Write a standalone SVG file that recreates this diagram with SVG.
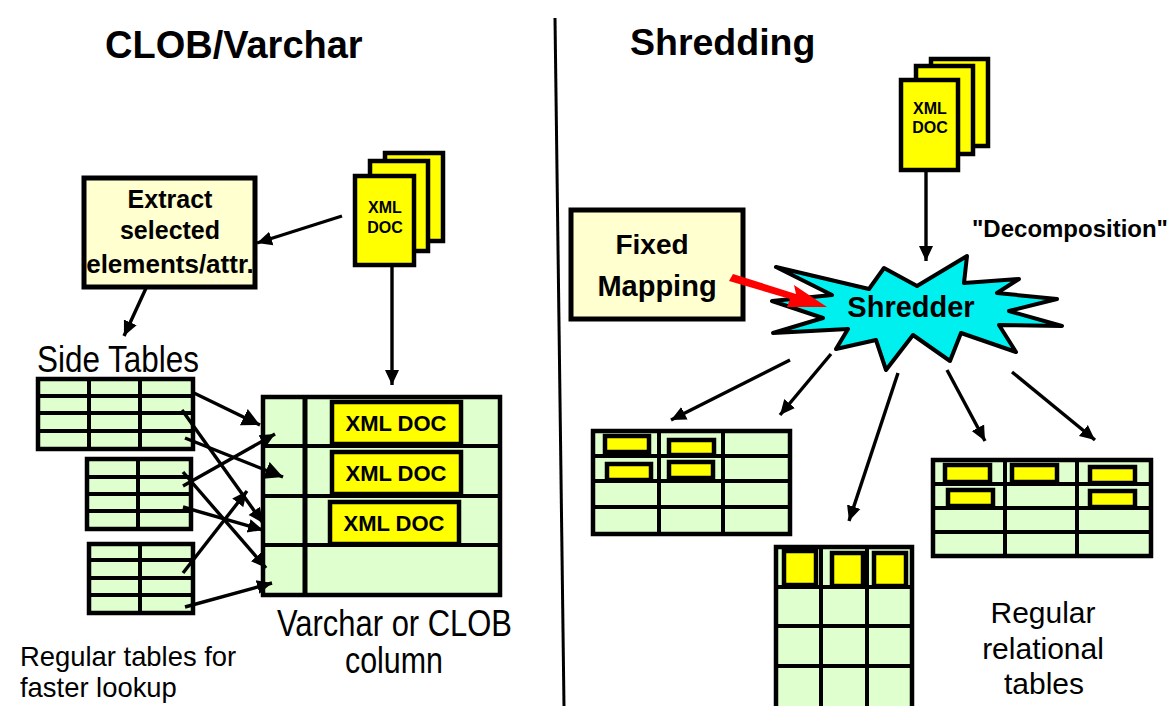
<svg xmlns="http://www.w3.org/2000/svg" width="1175" height="706" viewBox="0 0 1175 706">
<style>
text{font-family:"Liberation Sans",Arial,sans-serif;fill:#000}
.b{font-weight:700}
.m{text-anchor:middle}
.t{fill:#dfffcf;stroke:#000;stroke-width:4.5}
.g{stroke:#000;stroke-width:4;fill:none}
.g5{stroke:#000;stroke-width:5;fill:none}
.y{fill:#ff0;stroke:#000;stroke-width:4.5}
.s{fill:#ff0;stroke:#000;stroke-width:4.5}
.n{fill:#ffffd0;stroke:#000;stroke-width:5}
.c{stroke:#000;stroke-width:3.4;fill:none;marker-end:url(#ah)}
.c2{stroke:#000;stroke-width:3.4;fill:none;marker-end:url(#ahl)}
</style>
<defs>
<marker id="ah" markerUnits="userSpaceOnUse" markerWidth="16" markerHeight="16" refX="15" refY="8" orient="auto"><path d="M0 1L15 8L0 15Z"/></marker>
<marker id="ahl" markerUnits="userSpaceOnUse" markerWidth="20" markerHeight="20" refX="18" refY="10" orient="auto"><path d="M0 1L18 10L0 19Z"/></marker>
</defs>
<rect width="1175" height="706" fill="#fff"/>

<text class="b" x="105" y="58" font-size="38">CLOB/Varchar</text>
<text class="b" x="630" y="55" font-size="37.5">Shredding</text>
<path d="M555 18L564 706" stroke="#000" stroke-width="3" fill="none"/>

<g id="extract-box">
<rect class="n" x="84" y="178" width="171" height="109"/>
<text class="b m" x="170" y="208" font-size="25">Extract</text>
<text class="b m" x="170" y="239" font-size="25">selected</text>
<text class="b m" x="170" y="273" font-size="26">elements/attr.</text>
</g>

<g id="xml-stack-left">
<rect class="s" x="385" y="153" width="58" height="88"/>
<rect class="s" x="370" y="161" width="58" height="90"/>
<rect class="s" x="355" y="176" width="59" height="89"/>
<text class="b m" x="385" y="213" font-size="16">XML</text>
<text class="b m" x="385" y="233" font-size="16">DOC</text>
</g>

<g id="side-table-1">
<rect class="t" x="38" y="379" width="155" height="70"/>
<path class="g" d="M38 396H193M38 413H193M38 431H193M89 379V449M140 379V449"/>
</g>
<g id="side-table-2">
<rect class="t" x="87" y="459" width="104" height="70"/>
<path class="g" d="M87 477H191M87 494H191M87 511H191M138 459V529"/>
</g>
<g id="side-table-3">
<rect class="t" x="89" y="544" width="104" height="69"/>
<path class="g" d="M89 560H193M89 578H193M89 595H193M140 544V613"/>
</g>
<text id="side-tables-label" x="37" y="372" font-size="36" textLength="162" lengthAdjust="spacingAndGlyphs">Side Tables</text>

<g id="column-table">
<rect class="t" x="263" y="397" width="237" height="198"/>
<path class="g" d="M263 446H500M263 496H500M263 545H500"/>
<path class="g5" d="M305 397V595"/>
<g id="cell-doc-1">
<rect class="y" x="332" y="402" width="129" height="42"/>
<text class="b m" x="396" y="431" font-size="22">XML DOC</text>
</g>
<g id="cell-doc-2">
<rect class="y" x="332" y="452" width="129" height="42"/>
<text class="b m" x="396" y="481" font-size="22">XML DOC</text>
</g>
<g id="cell-doc-3">
<rect class="y" x="330" y="502" width="129" height="42"/>
<text class="b m" x="394" y="531" font-size="22">XML DOC</text>
</g>
</g>
<text x="277" y="636" font-size="37" textLength="235" lengthAdjust="spacingAndGlyphs">Varchar or CLOB</text>
<text x="345" y="673" font-size="37" textLength="98" lengthAdjust="spacingAndGlyphs">column</text>
<text x="20" y="666" font-size="27.4">Regular tables for</text>
<text x="20" y="697" font-size="27.4">faster lookup</text>

<g id="xml-stack-right">
<rect class="s" x="931" y="59" width="57" height="87"/>
<rect class="s" x="916" y="66" width="57" height="88"/>
<rect class="s" x="901" y="80" width="57" height="90"/>
<text class="b m" x="930" y="114" font-size="16">XML</text>
<text class="b m" x="930" y="133" font-size="16">DOC</text>
</g>

<text class="b" x="972" y="237" font-size="24" textLength="196" lengthAdjust="spacingAndGlyphs">"Decomposition"</text>

<g id="fixed-mapping">
<rect class="n" x="571" y="210" width="172" height="109"/>
<text class="b m" x="652" y="254" font-size="28">Fixed</text>
<text class="b m" x="657" y="296" font-size="29">Mapping</text>
</g>

<g id="shredder">
<path d="M776 267L869 289L884 268L917 286L967 256L964 283L1019 279L997 293L1057 299L1009 311L1062 326L999 325L1016 352L961 333L950 361L913 335L886 370L876 340L836 349L848 329L773 333L823 318L772 301L832 295Z" fill="#00f0f0" stroke="#000" stroke-width="4" stroke-linejoin="round"/>
<text class="b m" x="911" y="317" font-size="29">Shredder</text>
</g>

<g id="table-a">
<rect class="t" x="593" y="431" width="197" height="103"/>
<path class="g" d="M593 456H790M593 481H790M593 507H790M659 431V534M723 431V534"/>
<rect class="y" x="605" y="436" width="44" height="16"/>
<rect class="y" x="669" y="440" width="45" height="15"/>
<rect class="y" x="607" y="464" width="44" height="16"/>
<rect class="y" x="669" y="462" width="44" height="16"/>
</g>

<g id="table-b">
<rect class="t" x="776" y="547" width="136" height="163"/>
<path class="g" d="M776 587H912M776 626H912M776 666H912M821 547V710M867 547V710"/>
<rect class="y" x="784" y="551" width="32" height="34"/>
<rect class="y" x="832" y="553" width="31" height="33"/>
<rect class="y" x="874" y="553" width="32" height="33"/>
</g>

<g id="table-c">
<rect class="t" x="933" y="460" width="218" height="96"/>
<path class="g" d="M933 484H1151M933 508H1151M933 532H1151M1005 460V556M1077 460V556"/>
<rect class="y" x="945" y="465" width="45" height="17"/>
<rect class="y" x="1012" y="465" width="45" height="17"/>
<rect class="y" x="1090" y="467" width="45" height="16"/>
<rect class="y" x="948" y="490" width="45" height="16"/>
<rect class="y" x="1090" y="491" width="45" height="16"/>
</g>

<text class="m" x="1043" y="623" font-size="30">Regular</text>
<text class="m" x="1043" y="659" font-size="30">relational</text>
<text class="m" x="1044" y="694" font-size="30">tables</text>

<g id="connectors">
<path class="c" d="M342 216L257 243"/>
<path class="c" d="M147 286L124 336"/>
<path class="c" d="M392 266V385"/>
<path class="c" d="M926 172V261"/>
<path class="c" d="M790 360L671 420"/>
<path class="c" d="M831 354L780 415"/>
<path class="c" d="M898 373L849 521"/>
<path class="c" d="M947 370L985 441"/>
<path class="c" d="M1012 372L1095 440"/>
<path class="c2" d="M194 393L260 425"/>
<path class="c" d="M182 410L263 523"/>
<path class="c2" d="M185 438L283 477"/>
<path class="c" d="M183 486L275 434"/>
<path class="c" d="M183 472L266 568"/>
<path class="c" d="M183 507L263 530"/>
<path class="c" d="M183 573L247 491"/>
<path class="c" d="M185 607L272 583"/>
<path d="M733 274L796 294L794 285L827 307L787 307L790 299L729 281Z" fill="#f00"/>
</g>
</svg>
